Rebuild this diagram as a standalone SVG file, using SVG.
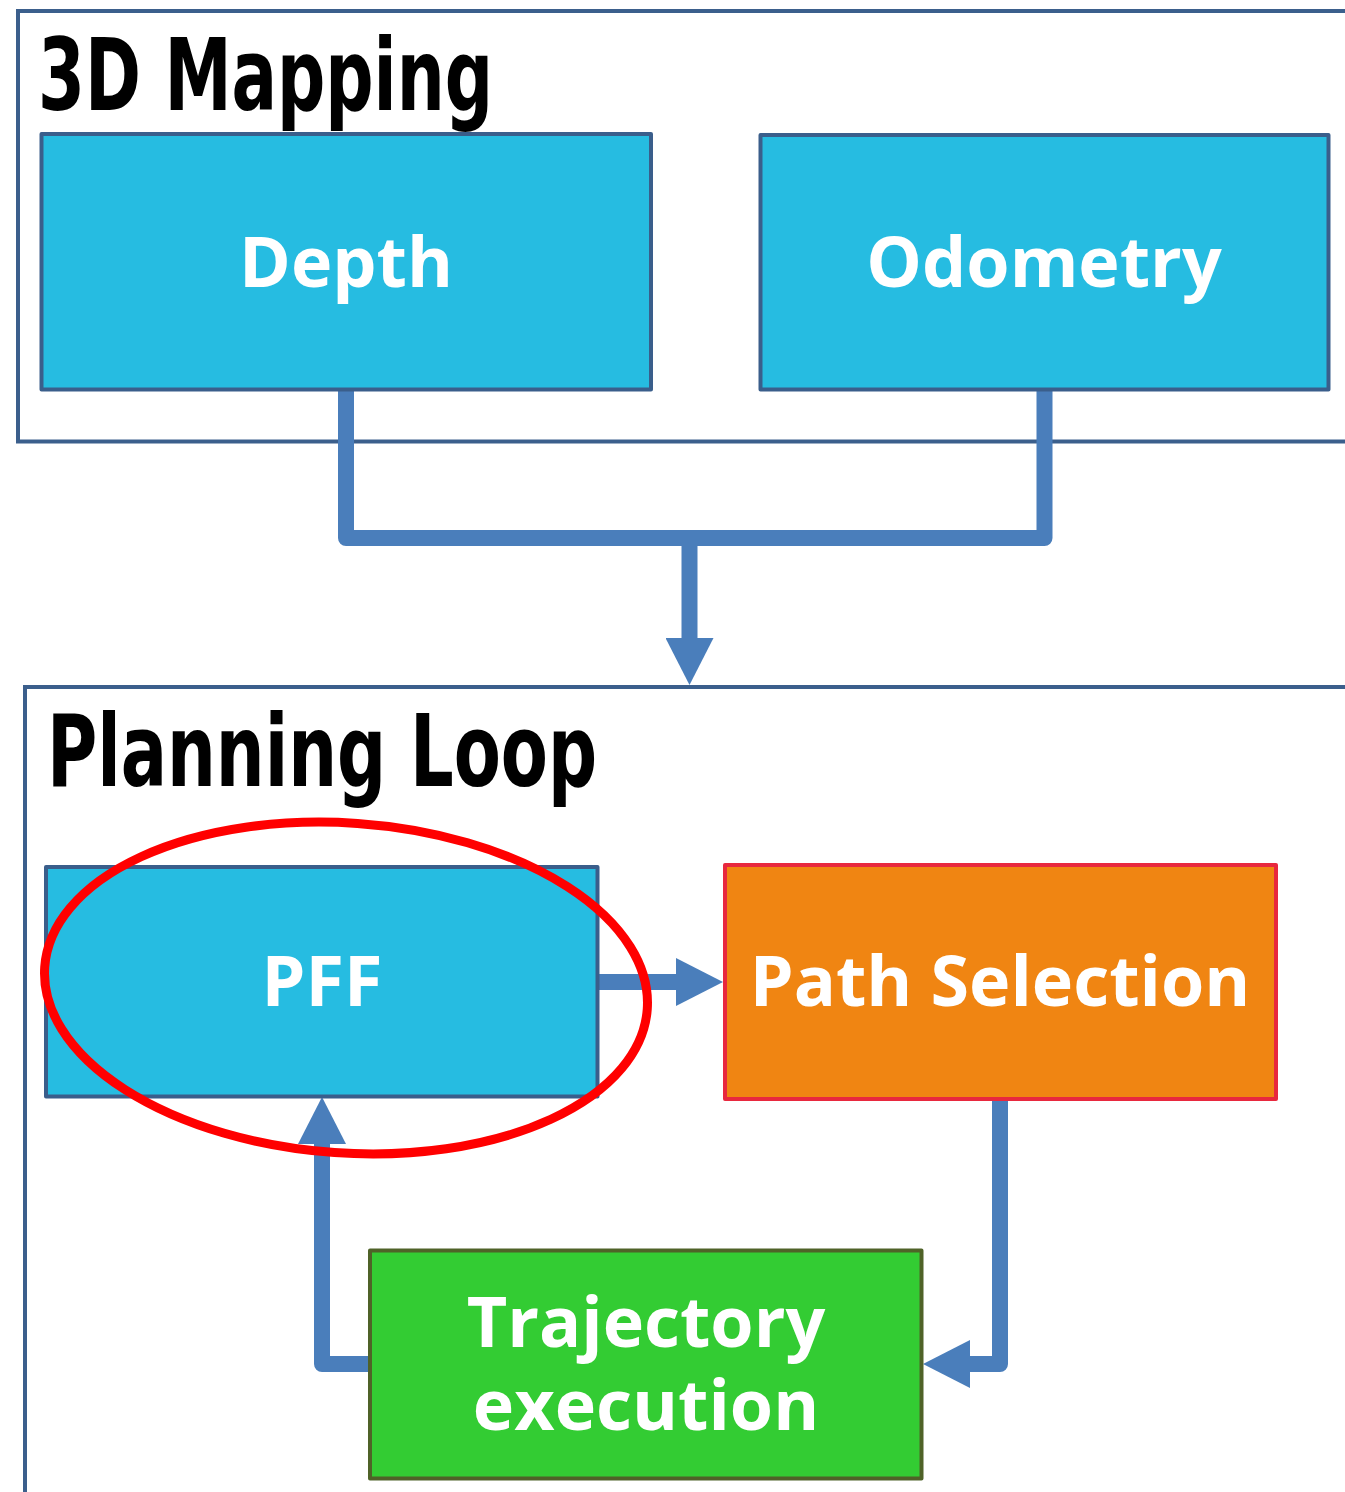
<svg xmlns="http://www.w3.org/2000/svg" width="1345" height="1492" viewBox="0 0 1345 1492">
  <style>
    .frame { fill: none; stroke: #3B5F8C; stroke-width: 4; }
    .title { font-family: "DejaVu Sans Condensed", "Liberation Sans", sans-serif; font-weight: 700; font-size: 100px; fill: #000000; }
    .box { stroke-width: 4; stroke-linejoin: round; }
    .blue { fill: #26BCE1; stroke: #3A5E8B; }
    .orange { fill: #F08512; stroke: #E8283E; }
    .green { fill: #33CC33; stroke: #4F6228; }
    .label { font-family: "Open Sans", "Liberation Sans", sans-serif; font-weight: 700; font-size: 70px; fill: #FFFFFF; text-anchor: middle; }
    .wire { fill: none; stroke: #4A7EBB; stroke-width: 16; stroke-linejoin: round; stroke-linecap: butt; }
    .mark { fill: none; stroke: #FF0000; stroke-width: 9; }
  </style>
  <defs>
    <marker id="head" markerUnits="userSpaceOnUse" markerWidth="48" markerHeight="48" refX="0" refY="24" orient="auto" viewBox="0 0 48 48">
      <path d="M0,0 L47,24 L0,48 Z" fill="#4A7EBB"/>
    </marker>
  </defs>

  <rect width="1345" height="1492" fill="#FFFFFF"/>

  <!-- section frames -->
  <g id="mapping-frame">
    <rect class="frame" x="18" y="11" width="1400" height="430.5"/>
    <text class="title" x="38" y="110" textLength="455" lengthAdjust="spacingAndGlyphs">3D Mapping</text>
  </g>
  <g id="planning-frame">
    <rect class="frame" x="25" y="687" width="1400" height="900"/>
    <text class="title" x="47" y="786" textLength="550" lengthAdjust="spacingAndGlyphs">Planning Loop</text>
  </g>

  <!-- connectors -->
  <g id="connectors">
    <path class="wire" d="M346,389.5 V538 H1044.5 V389.5"/>
    <path class="wire" d="M689.5,538 V638" marker-end="url(#head)"/>
    <path class="wire" d="M597.5,982 H676" marker-end="url(#head)"/>
    <path class="wire" d="M1000,1099 V1364 H970" marker-end="url(#head)"/>
    <path class="wire" d="M370,1364 H322 V1144" marker-end="url(#head)"/>
  </g>

  <!-- nodes -->
  <g id="depth">
    <rect class="box blue" x="41.5" y="134" width="609.5" height="255.5"/>
    <text class="label" x="346" y="287">Depth</text>
  </g>
  <g id="odometry">
    <rect class="box blue" x="760.5" y="135" width="568" height="254.5"/>
    <text class="label" x="1044" y="287">Odometry</text>
  </g>
  <g id="pff">
    <rect class="box blue" x="46" y="867" width="551.5" height="229.5"/>
    <text class="label" x="322" y="1006">PFF</text>
  </g>
  <g id="path-selection">
    <rect class="box orange" x="725" y="865" width="551" height="234"/>
    <text class="label" x="1000" y="1006">Path Selection</text>
  </g>
  <g id="trajectory-execution">
    <rect class="box green" x="370" y="1250.5" width="551.5" height="228"/>
    <text class="label"><tspan x="646" y="1347">Trajectory</tspan><tspan x="646" y="1430">execution</tspan></text>
  </g>

  <!-- highlight ring around PFF -->
  <g id="pff-highlight">
    <ellipse class="mark" cx="346" cy="988" rx="302" ry="165" transform="rotate(4 346 988)"/>
  </g>
</svg>
